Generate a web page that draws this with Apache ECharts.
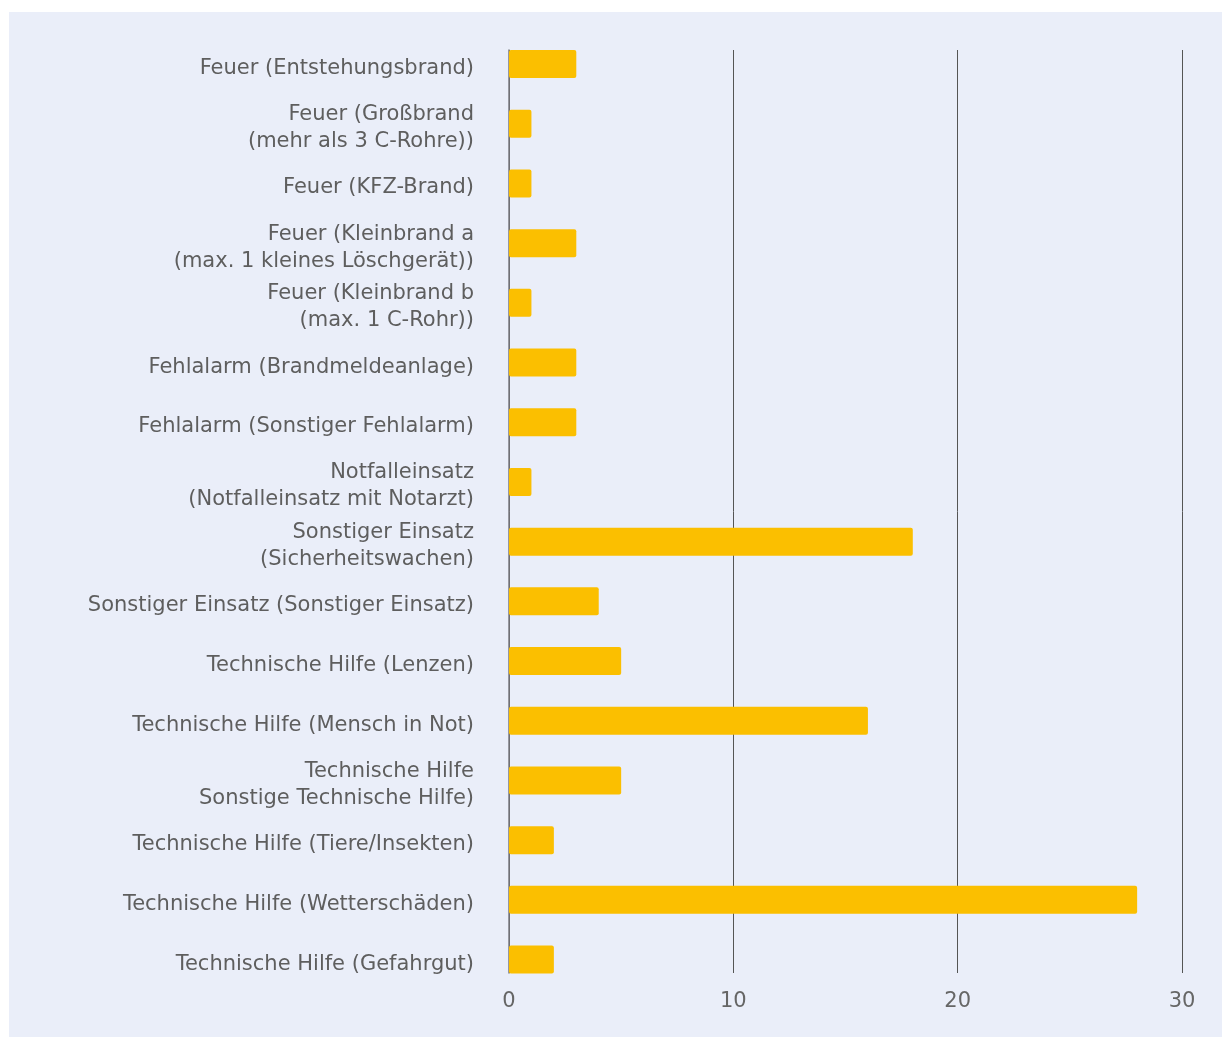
<!DOCTYPE html>
<html><head><meta charset="utf-8">
<script src="https://cdn.jsdelivr.net/npm/echarts@6/dist/echarts.min.js"></script>
<style>
html,body{margin:0;padding:0;background:#fff;}
#c{position:absolute;left:9px;top:12px;width:1213px;height:1025px;background:#eaeef9;}
</style></head><body>
<div id="c"></div>
<script>
const categories = [
  "Feuer (Entstehungsbrand)",
  "Feuer (Großbrand\n(mehr als 3 C-Rohre))",
  "Feuer (KFZ-Brand)",
  "Feuer (Kleinbrand a\n(max. 1 kleines Löschgerät))",
  "Feuer (Kleinbrand b\n(max. 1 C-Rohr))",
  "Fehlalarm (Brandmeldeanlage)",
  "Fehlalarm (Sonstiger Fehlalarm)",
  "Notfalleinsatz\n(Notfalleinsatz mit Notarzt)",
  "Sonstiger Einsatz\n(Sicherheitswachen)",
  "Sonstiger Einsatz (Sonstiger Einsatz)",
  "Technische Hilfe (Lenzen)",
  "Technische Hilfe (Mensch in Not)",
  "Technische Hilfe\nSonstige Technische Hilfe)",
  "Technische Hilfe (Tiere/Insekten)",
  "Technische Hilfe (Wetterschäden)",
  "Technische Hilfe (Gefahrgut)"
];
const values = [3, 1, 1, 3, 1, 3, 3, 1, 18, 4, 5, 16, 5, 2, 28, 2];
const xTicks = [0, 10, 20, 30];

const FONT = "'DejaVu Sans', sans-serif";
const chart = echarts.init(document.getElementById('c'), null, {renderer: 'canvas'});
chart.setOption({
  animation: false,
  backgroundColor: '#eaeef9',
  grid: [
    {left: 500, width: 673, top: 38, height: 923, containLabel: false},
    {left: 500, width: 673, top: 22.2, height: 955.2, containLabel: false},
    {left: 500, width: 673, top: 26.7, height: 955.2, containLabel: false}
  ],
  xAxis: [
    {gridIndex: 0, type: 'value', min: xTicks[0], max: xTicks[xTicks.length-1], interval: 10,
     axisLine: {show: false}, axisTick: {show: false},
     axisLabel: {color: '#666', fontFamily: FONT, fontSize: 21, margin: 18},
     splitLine: {show: true, lineStyle: {color: '#555', width: 1}}},
    {gridIndex: 1, type: 'value', min: 0, max: 30, show: false},
    {gridIndex: 2, type: 'value', min: 0, max: 30, show: false}
  ],
  yAxis: [
    {gridIndex: 0, type: 'value', min: 0, max: 1, axisLine: {show: true, lineStyle: {color: '#7a7a80', width: 1.5}},
     axisTick: {show: false}, axisLabel: {show: false}, splitLine: {show: false}},
    {gridIndex: 1, type: 'category', data: categories, inverse: true,
     axisLine: {show: false}, axisTick: {show: false}, axisLabel: {show: false}},
    {gridIndex: 2, type: 'category', data: categories, inverse: true,
     axisLine: {show: false}, axisTick: {show: false},
     axisLabel: {color: '#5e5e5e', fontFamily: FONT, fontSize: 21, lineHeight: 27, margin: 35, align: 'right'}}
  ],
  series: [{
    type: 'bar', xAxisIndex: 1, yAxisIndex: 1, data: values, barWidth: 28,
    itemStyle: {color: '#fbbf00', borderRadius: 2}
  }]
});
</script></body></html>
